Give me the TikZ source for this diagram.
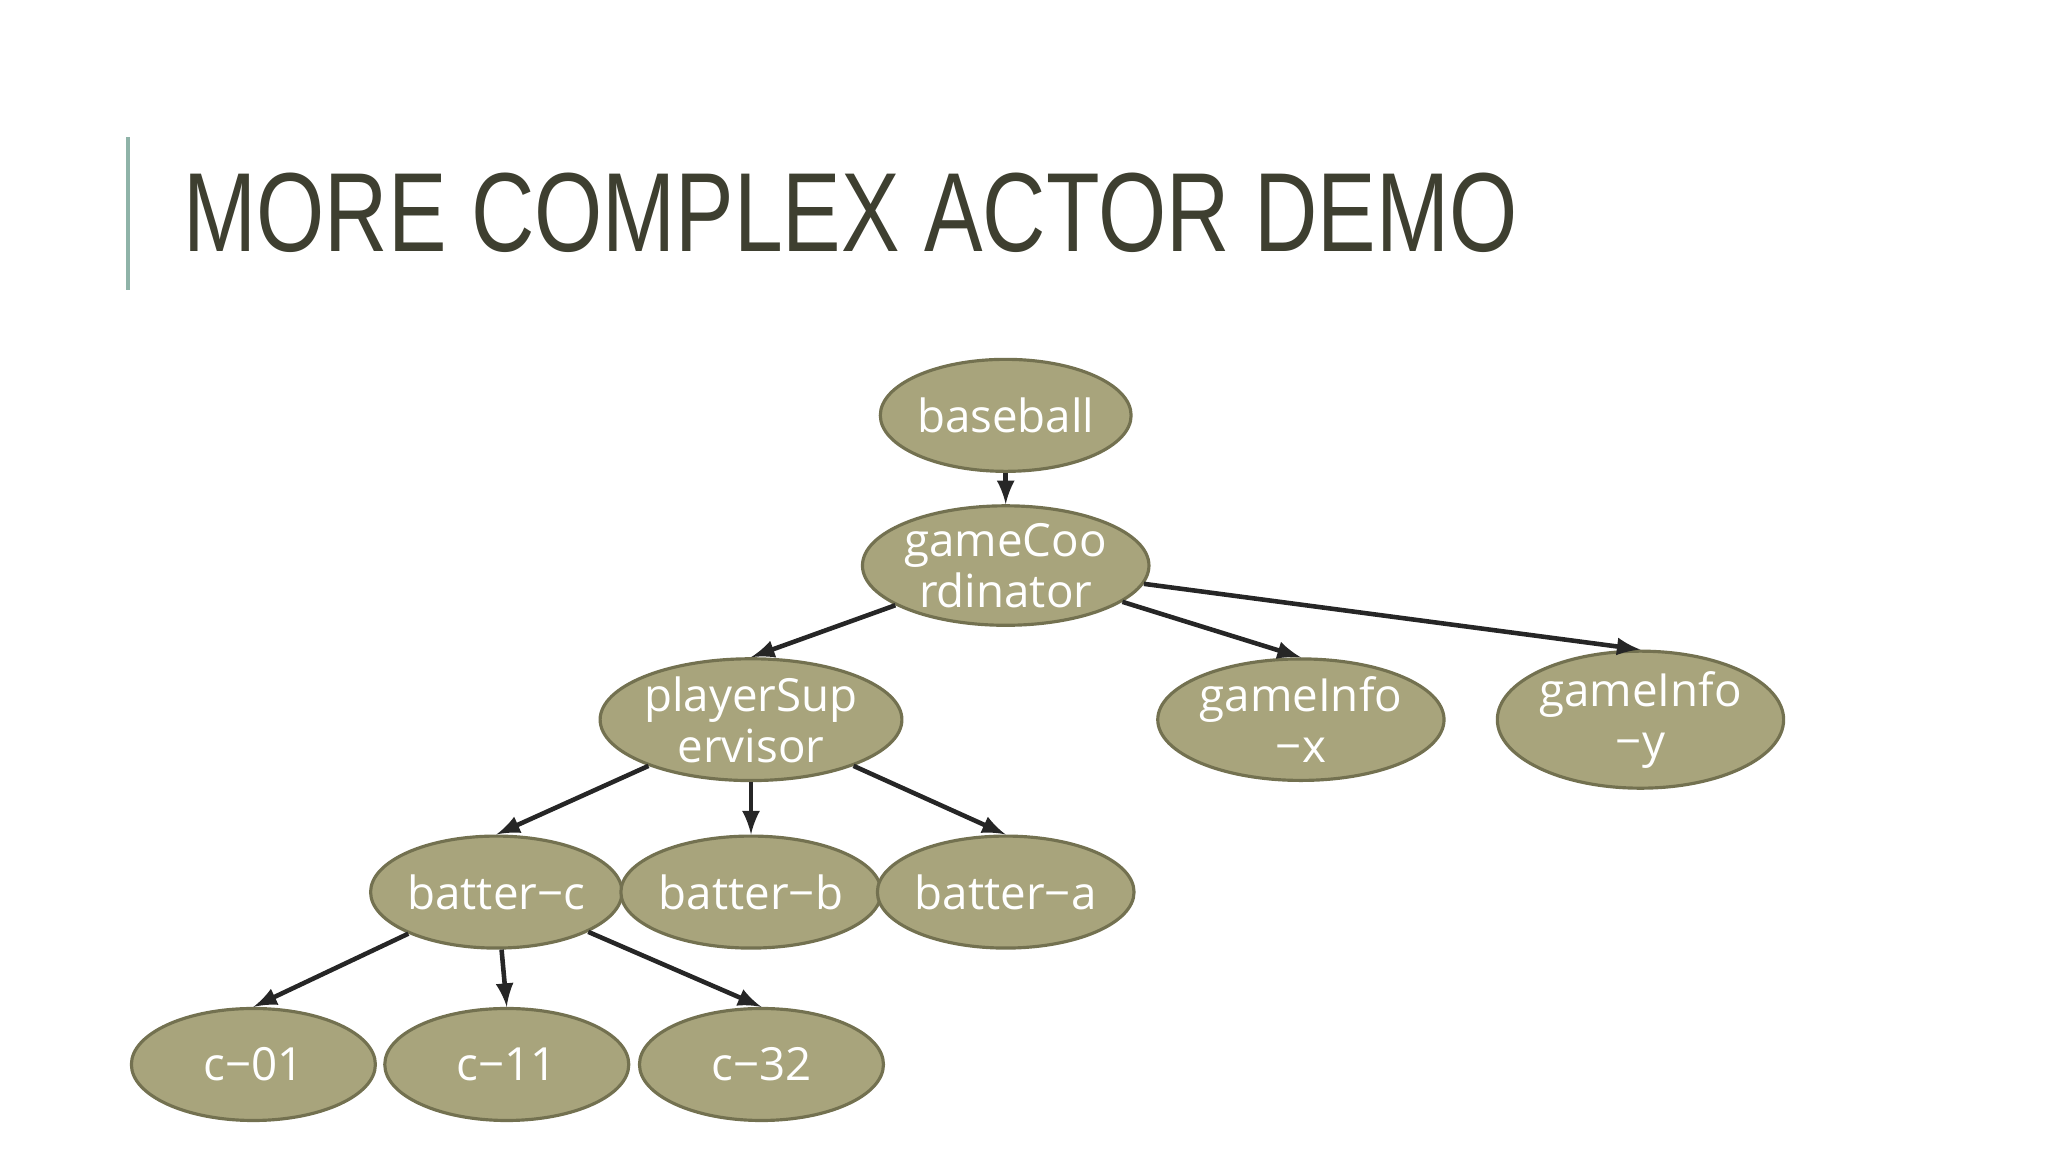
\documentclass[tikz,border=0pt]{standalone}
\usepackage{fontspec}
\setmainfont{Open Sans}
\newfontfamily\titlefont{Liberation Sans}
\usetikzlibrary{shapes.geometric}
\definecolor{actorfill}{HTML}{A8A47C}
\definecolor{actordraw}{HTML}{737150}
\definecolor{titlegray}{HTML}{3E3F30}
\definecolor{barteal}{HTML}{8FB3A8}
\definecolor{edgegray}{HTML}{262626}
\tikzset{
  actor/.style={draw=actordraw, fill=actorfill, ellipse, line width=0.9pt,
    minimum width=2.44cm, minimum height=1.12cm, inner sep=0pt,
    text=white, align=center, font=\fontsize{13}{14.5}\selectfont},
  link/.style={draw=edgegray, line width=1.3pt, -latex}
}
\begin{document}
\begin{tikzpicture}[x=0.01306cm, y=-0.01306cm]
\useasboundingbox (0,0) rectangle (1568,882);
\draw[barteal, line width=1.2pt] (98,105) -- (98,222);
\node[anchor=west, inner sep=0pt, text=titlegray] (title) at (140,163)
  {\scalebox{0.78}[1]{\titlefont\fontsize{32}{32}\selectfont MORE COMPLEX ACTOR DEMO}};

\node[actor] (baseball) at (770,318) {baseball};
\node[actor] (coord) at (770,433) {gameCoo\\rdinator};
\node[actor] (super) at (575,551) {playerSup\\ervisor};
\node[actor] (infox) at (996,551) {gameInfo\\−x};
\node[actor] (infoy) at (1256,551) {gameInfo\\−y};
\node[actor] (batc) at (380,683) {batter−c};
\node[actor] (batb) at (575,683) {batter−b};
\node[actor] (bata) at (770,683) {batter−a};
\node[actor] (c01) at (194,815) {c−01};
\node[actor] (c11) at (388,815) {c−11};
\node[actor] (c32) at (583,815) {c−32};

\path[link] (baseball) -- (coord.north);
\path[link] (coord) -- (super.north);
\path[link] (coord) -- (infox.north);
\path[link] (coord) -- (infoy.north);
\path[link] (super) -- (batc.north);
\path[link] (super) -- (batb.north);
\path[link] (super) -- (bata.north);
\path[link] (batc) -- (c01.north);
\path[link] (batc) -- (c11.north);
\path[link] (batc) -- (c32.north);
\end{tikzpicture}
\end{document}
